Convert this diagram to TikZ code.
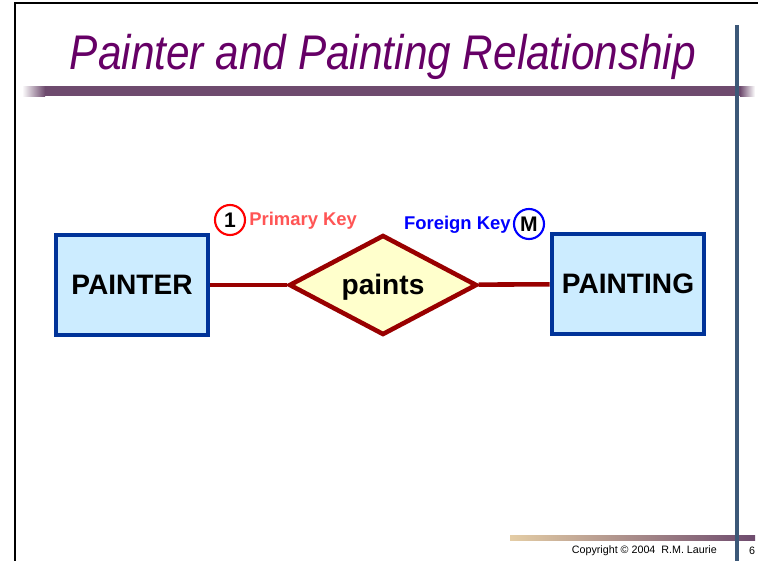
\documentclass[tikz,border=0pt]{standalone}
\usepackage{fontspec}
\setmainfont{Liberation Sans}
\usepackage{graphicx}
\usetikzlibrary{shapes.geometric}
\definecolor{titlepurple}{RGB}{102,0,102}
\definecolor{barmauve}{RGB}{110,75,110}
\definecolor{bartan}{RGB}{228,205,165}
\definecolor{slate}{RGB}{60,88,120}
\definecolor{entityblue}{RGB}{0,51,153}
\definecolor{entityfill}{RGB}{204,236,255}
\definecolor{relred}{RGB}{153,0,0}
\definecolor{relfill}{RGB}{255,255,204}
\definecolor{pkred}{RGB}{255,85,85}
\definecolor{fkblue}{RGB}{0,0,255}

\tikzset{
  entity/.style={draw=entityblue, fill=entityfill, line width=2.6pt, minimum width=3.04cm, minimum height=2.0cm, font=\fontsize{16}{18}\selectfont\bfseries},
  relation/.style={diamond, aspect=2, draw=relred, fill=relfill, line width=2.6pt, inner sep=0pt, minimum width=3.76cm, minimum height=2.0cm, text height=14pt, text depth=2.7pt, font=\fontsize{16}{18}\selectfont\bfseries},
  link/.style={draw=relred, line width=2.6pt},
  card/.style={circle, draw, line width=1.2pt, inner sep=0pt, minimum size=0.6cm, font=\fontsize{12}{14}\selectfont\bfseries},
  keylabel/.style={font=\fontsize{10.5}{12}\selectfont\bfseries, inner sep=0pt},
}

\begin{document}
\begin{tikzpicture}[x=0.02cm, y=-0.02cm]
\useasboundingbox (0,0) rectangle (758,561);
\draw [line width=1.2pt] (15,561) -- (15,3) -- (758,3);

\shade [left color=white, right color=barmauve] (22,86) rectangle (45,96);
\fill [barmauve] (45,86) rectangle (740,96);
\shade [left color=barmauve, right color=white] (740,86) rectangle (755,96);
\shade [left color=bartan, right color=barmauve] (510,535) rectangle (755,540);
\fill [slate] (735,25) rectangle (739,561);

\node (title) at (383,70) [anchor=base, text=titlepurple, font=\fontsize{27.7}{30}\selectfont\itshape] {\scalebox{0.87}[1]{Painter and Painting Relationship}};

\node (painter) at (132,285) [entity] {PAINTER};
\node (paints) at (383,285) [relation] {paints};
\node (painting) at (628,284) [entity] {PAINTING};

\draw [link] (painter) -- (paints);
\draw [link] (paints) -- (painting);

\node (one) at (230,220) [card, draw=red] {1};
\node (pk) at (249,221) [keylabel, anchor=west, text=pkred] {Primary Key};
\node (many) at (529,224) [card, draw=fkblue] {M};
\node (fk) at (511,225) [keylabel, anchor=east, text=fkblue] {Foreign Key};

\node (copy) at (723,551) [anchor=east, font=\fontsize{6.1}{7}\selectfont] {Copyright \textcopyright{} 2004\ \ R.M. Laurie};
\node (page) at (752,551) [font=\fontsize{6.1}{7}\selectfont] {6};
\end{tikzpicture}
\end{document}
